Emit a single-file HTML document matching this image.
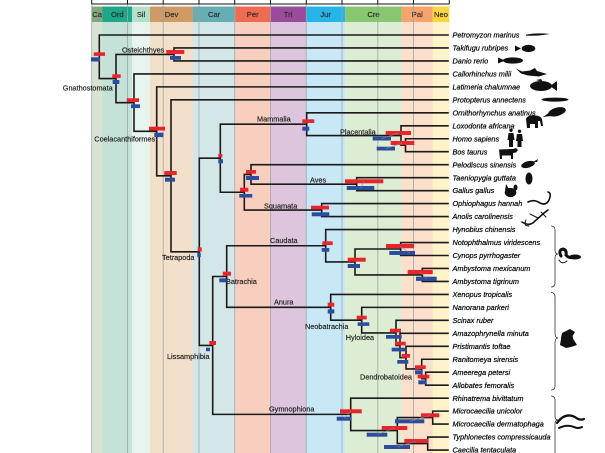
<!DOCTYPE html>
<html><head><meta charset="utf-8"><style>
html,body{margin:0;padding:0;background:#fff;}
svg{display:block;}
.hd{font-family:"Liberation Sans",sans-serif;font-size:7.6px;fill:#2a2a2a;text-anchor:middle;stroke:#2a2a2a;stroke-width:0.15px;}
.cl{font-family:"Liberation Sans",sans-serif;font-size:7.3px;fill:#1a1a1a;stroke:#1a1a1a;stroke-width:0.15px;}
.tx{font-family:"Liberation Sans",sans-serif;font-size:7.3px;font-style:italic;fill:#000;stroke:#000;stroke-width:0.2px;}
</style></head><body>
<svg width="605" height="453" viewBox="0 0 605 453" xmlns="http://www.w3.org/2000/svg">
<rect width="605" height="453" fill="#fff"/>
<g>
<rect x="91.7" y="22" width="10.8" height="431" fill="#d9e3d5"/>
<rect x="102.5" y="22" width="29.7" height="431" fill="#c5e2d9"/>
<rect x="132.2" y="22" width="17.8" height="431" fill="#e8f5ef"/>
<rect x="150" y="22" width="43" height="431" fill="#f2e0ca"/>
<rect x="193" y="22" width="42.3" height="431" fill="#d3e6e8"/>
<rect x="235.3" y="22" width="34.9" height="431" fill="#f8cebf"/>
<rect x="270.2" y="22" width="35.8" height="431" fill="#dec5de"/>
<rect x="306" y="22" width="39.3" height="431" fill="#c9e8f6"/>
<rect x="345.3" y="22" width="56.5" height="431" fill="#ddedd4"/>
<rect x="401.8" y="22" width="31" height="431" fill="#fde0cb"/>
<rect x="432.8" y="22" width="16.5" height="431" fill="#fef3c9"/>
</g>
<g>
<rect x="91.7" y="6.5" width="10.8" height="15.5" fill="#82a77c"/>
<rect x="102.5" y="6.5" width="29.7" height="15.5" fill="#1fa888"/>
<rect x="132.2" y="6.5" width="17.8" height="15.5" fill="#b3e0cb"/>
<rect x="150" y="6.5" width="43" height="15.5" fill="#d09a64"/>
<rect x="193" y="6.5" width="42.3" height="15.5" fill="#66aeb3"/>
<rect x="235.3" y="6.5" width="34.9" height="15.5" fill="#ee6a50"/>
<rect x="270.2" y="6.5" width="35.8" height="15.5" fill="#994c99"/>
<rect x="306" y="6.5" width="39.3" height="15.5" fill="#25b5e8"/>
<rect x="345.3" y="6.5" width="56.5" height="15.5" fill="#88c76f"/>
<rect x="401.8" y="6.5" width="31" height="15.5" fill="#f7a36b"/>
<rect x="432.8" y="6.5" width="16.5" height="15.5" fill="#fbd63e"/>
<text class="hd" x="97.1" y="17">Ca</text>
<text class="hd" x="117.3" y="17">Ord</text>
<text class="hd" x="141.1" y="17">Sil</text>
<text class="hd" x="171.5" y="17">Dev</text>
<text class="hd" x="214.1" y="17">Car</text>
<text class="hd" x="252.7" y="17">Per</text>
<text class="hd" x="288.1" y="17">Tri</text>
<text class="hd" x="325.6" y="17">Jur</text>
<text class="hd" x="373.5" y="17">Cre</text>
<text class="hd" x="417.3" y="17">Pal</text>
<text class="hd" x="441" y="17">Neo</text>
</g>
<g stroke="#9aa4a4" stroke-width="1" opacity="0.75">
<line x1="91.7" y1="4" x2="91.7" y2="453"/>
<line x1="127.5" y1="4" x2="127.5" y2="453"/>
<line x1="163.2" y1="4" x2="163.2" y2="453"/>
<line x1="199" y1="4" x2="199" y2="453"/>
<line x1="234.7" y1="4" x2="234.7" y2="453"/>
<line x1="270.5" y1="4" x2="270.5" y2="453"/>
<line x1="306.3" y1="4" x2="306.3" y2="453"/>
<line x1="342" y1="4" x2="342" y2="453"/>
<line x1="377.8" y1="4" x2="377.8" y2="453"/>
<line x1="413.5" y1="4" x2="413.5" y2="453"/>
</g>
<g stroke="#111" stroke-width="1">
<line x1="91.7" y1="4" x2="449.3" y2="4"/>
<line x1="91.7" y1="0" x2="91.7" y2="4"/>
<line x1="127.5" y1="0" x2="127.5" y2="4"/>
<line x1="163.2" y1="0" x2="163.2" y2="4"/>
<line x1="199" y1="0" x2="199" y2="4"/>
<line x1="234.7" y1="0" x2="234.7" y2="4"/>
<line x1="270.5" y1="0" x2="270.5" y2="4"/>
<line x1="306.3" y1="0" x2="306.3" y2="4"/>
<line x1="342" y1="0" x2="342" y2="4"/>
<line x1="377.8" y1="0" x2="377.8" y2="4"/>
<line x1="413.5" y1="0" x2="413.5" y2="4"/>
<line x1="449.3" y1="0" x2="449.3" y2="4"/>
</g>
<path fill="none" stroke="#1a1a1a" stroke-width="1.6" stroke-linecap="square" d="
M99.3,35 V78.55 M99.3,35 H448 M99.3,78.55 H116
M116,54.46 V102.64 M116,54.46 H174 M116,102.64 H134
M174,47.97 V60.94 M174,47.97 H448 M174,60.94 H448
M134,73.91 V131.36 M134,73.91 H448 M134,131.36 H156.7
M156.7,86.88 V175.84 M156.7,86.88 H448 M156.7,175.84 H171
M171,99.85 V251.83 M171,99.85 H448 M171,251.83 H199.3
M199.3,158.22 V345.44 M199.3,158.22 H220.3 M199.3,345.44 H212.7
M220.3,124.17 V192.26 M220.3,124.17 H306.7 M220.3,192.26 H244.3
M306.7,112.82 V135.52 M306.7,112.82 H448 M306.7,135.52 H401
M401,125.79 V145.25 M401,125.79 H448 M401,145.25 H405.5
M405.5,138.76 V151.73 M405.5,138.76 H448 M405.5,151.73 H448
M244.3,174.43 V210.1 M244.3,174.43 H251 M244.3,210.1 H321.7
M251,164.7 V184.16 M251,164.7 H448 M251,184.16 H356.7
M356.7,177.67 V190.64 M356.7,177.67 H448 M356.7,190.64 H448
M321.7,203.61 V216.58 M321.7,203.61 H448 M321.7,216.58 H448
M212.7,276.5 V414.37 M212.7,276.5 H226.7 M212.7,414.37 H350.7
M226.7,245.76 V307.27 M226.7,245.76 H325.7 M226.7,307.27 H330.7
M325.7,229.55 V261.98 M325.7,229.55 H448 M325.7,261.98 H355
M355,249 V274.95 M355,249 H400.7 M355,274.95 H422.3
M400.7,242.52 V255.49 M400.7,242.52 H448 M400.7,255.49 H448
M422.3,268.46 V281.43 M422.3,268.46 H448 M422.3,281.43 H448
M330.7,294.4 V320.14 M330.7,294.4 H448 M330.7,320.14 H361.7
M361.7,307.37 V332.9 M361.7,307.37 H448 M361.7,332.9 H396
M396,320.34 V345.47 M396,320.34 H448 M396,345.47 H400
M400,333.31 V357.63 M400,333.31 H448 M400,357.63 H406
M406,346.28 V368.98 M406,346.28 H448 M406,368.98 H421.7
M421.7,359.25 V378.7 M421.7,359.25 H448 M421.7,378.7 H425.7
M425.7,372.22 V385.19 M425.7,372.22 H448 M425.7,385.19 H448
M350.7,398.16 V430.58 M350.7,398.16 H448 M350.7,430.58 H397.3
M397.3,417.6 V443.56 M397.3,417.6 H432.7 M397.3,443.56 H427.7
M432.7,411.13 V424.1 M432.7,411.13 H448 M432.7,424.1 H448
M427.7,437.07 V450.04 M427.7,437.07 H448 M427.7,450.04 H448
"/>
<g fill="#e8242c">
<rect x="93.7" y="52.3" width="11.3" height="3.6"/>
<rect x="112.3" y="74.3" width="8.4" height="3.6"/>
<rect x="166.3" y="50" width="18" height="4"/>
<rect x="126.7" y="98.3" width="12.3" height="3.7"/>
<rect x="149" y="126.7" width="16" height="3.8"/>
<rect x="164.3" y="171" width="12.4" height="4"/>
<rect x="218.3" y="154" width="4" height="3.5"/>
<rect x="240" y="187.7" width="8.3" height="4"/>
<rect x="246" y="170" width="10" height="3.7"/>
<rect x="302.3" y="119.3" width="12" height="3.7"/>
<rect x="385.7" y="131" width="25.3" height="4"/>
<rect x="390.7" y="141" width="23.6" height="4"/>
<rect x="345" y="179.3" width="38.3" height="4"/>
<rect x="311" y="205.7" width="18" height="3.8"/>
<rect x="197.7" y="247.3" width="4" height="4.2"/>
<rect x="222.7" y="271.7" width="8.3" height="4"/>
<rect x="322.3" y="241.3" width="10.4" height="3.8"/>
<rect x="347.7" y="257.7" width="18" height="4"/>
<rect x="386" y="244" width="28" height="4.2"/>
<rect x="407.7" y="270" width="25" height="4.2"/>
<rect x="327.7" y="302.7" width="6.6" height="4"/>
<rect x="356.7" y="315.7" width="10" height="3.7"/>
<rect x="390" y="328.7" width="11" height="3.7"/>
<rect x="395" y="341.7" width="10.7" height="3.7"/>
<rect x="401.7" y="354" width="8.3" height="3.7"/>
<rect x="415" y="365.3" width="10.7" height="3.7"/>
<rect x="417.7" y="374.7" width="11.6" height="3.7"/>
<rect x="209.3" y="341" width="6.7" height="4"/>
<rect x="340" y="409.3" width="21.7" height="4"/>
<rect x="381.7" y="426" width="25.6" height="4"/>
<rect x="421" y="413.3" width="18.3" height="4"/>
<rect x="404.3" y="439" width="24" height="4"/>
</g>
<g fill="#2b4c9f">
<rect x="91" y="57.3" width="9" height="4.2"/>
<rect x="112.7" y="80" width="6.6" height="4"/>
<rect x="170" y="56" width="11" height="3.8"/>
<rect x="131" y="104.3" width="9" height="3.8"/>
<rect x="154.3" y="132.7" width="9" height="4.4"/>
<rect x="165" y="177.7" width="10" height="4"/>
<rect x="218.3" y="159.3" width="4.7" height="4"/>
<rect x="239.3" y="194" width="13" height="3.6"/>
<rect x="246" y="176" width="13" height="4"/>
<rect x="302.3" y="126.7" width="7" height="4"/>
<rect x="372.7" y="136.7" width="18.3" height="3.8"/>
<rect x="376.7" y="146.7" width="18.3" height="3.8"/>
<rect x="346.7" y="186" width="27.6" height="4"/>
<rect x="311.7" y="212.3" width="17.6" height="4"/>
<rect x="197.3" y="252.7" width="3.4" height="4.4"/>
<rect x="219.3" y="278.3" width="7.4" height="4"/>
<rect x="321.7" y="248" width="7.6" height="3.8"/>
<rect x="347.7" y="264" width="12.3" height="4"/>
<rect x="389.3" y="251" width="25.7" height="4"/>
<rect x="416" y="276.7" width="20.7" height="4.2"/>
<rect x="327.7" y="309.3" width="6.6" height="4.2"/>
<rect x="357.7" y="322.3" width="11.6" height="3.6"/>
<rect x="386" y="335" width="15.7" height="3.7"/>
<rect x="391.7" y="347.7" width="14" height="3.7"/>
<rect x="397.3" y="360" width="11" height="3.7"/>
<rect x="415" y="370.3" width="7.7" height="4"/>
<rect x="418.3" y="380.3" width="8.4" height="4"/>
<rect x="206" y="347.7" width="4" height="3.5"/>
<rect x="336.7" y="416.7" width="15" height="4"/>
<rect x="366.7" y="432.7" width="20.6" height="4"/>
<rect x="395" y="419.3" width="29.3" height="4"/>
<rect x="384" y="445" width="26" height="4"/>
</g>
<g stroke="#8a8a8a" stroke-width="0.7" opacity="0.8">
<line x1="381.8" y1="138.5" x2="398.3" y2="133"/>
<line x1="385.8" y1="148.5" x2="402.5" y2="143"/>
<line x1="360.5" y1="188" x2="364" y2="181.3"/>
<line x1="409.6" y1="253" x2="400" y2="246"/>
<line x1="426.3" y1="278.7" x2="420.2" y2="272"/>
<line x1="344.2" y1="418.7" x2="350.8" y2="411.3"/>
<line x1="377" y1="434.7" x2="394.5" y2="428"/>
<line x1="409.6" y1="421.3" x2="430.1" y2="415.3"/>
<line x1="397" y1="447" x2="416.3" y2="441"/>
</g>
<g class="cl">
<text x="122" y="52.5">Osteichthyes</text>
<text x="112.7" y="90.5" text-anchor="end">Gnathostomata</text>
<text x="94.3" y="141.5">Coelacanthiformes</text>
<text x="257" y="121.5">Mammalia</text>
<text x="340" y="134.3">Placentalia</text>
<text x="310" y="182.7">Aves</text>
<text x="264" y="208.7">Squamata</text>
<text x="162" y="259.8">Tetrapoda</text>
<text x="270" y="243.2">Caudata</text>
<text x="226" y="284.2">Batrachia</text>
<text x="274" y="304.5">Anura</text>
<text x="305" y="329.2">Neobatrachia</text>
<text x="345.7" y="340.2">Hyloidea</text>
<text x="360" y="379.5">Dendrobatoidea</text>
<text x="269" y="411.5">Gymnophiona</text>
<text x="167" y="359.2">Lissamphibia</text>
</g>
<g class="tx">
<text x="452.5" y="37.6">Petromyzon marinus</text>
<text x="452.5" y="50.6">Takifugu rubripes</text>
<text x="452.5" y="63.5">Danio rerio</text>
<text x="452.5" y="76.5">Callorhinchus milii</text>
<text x="452.5" y="89.5">Latimeria chalumnae</text>
<text x="452.5" y="102.4">Protopterus annectens</text>
<text x="452.5" y="115.4">Ornithorhynchus anatinus</text>
<text x="452.5" y="128.4">Loxodonta africana</text>
<text x="452.5" y="141.4">Homo sapiens</text>
<text x="452.5" y="154.3">Bos taurus</text>
<text x="452.5" y="167.3">Pelodiscus sinensis</text>
<text x="452.5" y="180.3">Taeniopygia guttata</text>
<text x="452.5" y="193.2">Gallus gallus</text>
<text x="452.5" y="206.2">Ophiophagus hannah</text>
<text x="452.5" y="219.2">Anolis carolinensis</text>
<text x="452.5" y="232.2">Hynobius chinensis</text>
<text x="452.5" y="245.1">Notophthalmus viridescens</text>
<text x="452.5" y="258.1">Cynops pyrrhogaster</text>
<text x="452.5" y="271.1">Ambystoma mexicanum</text>
<text x="452.5" y="284">Ambystoma tigrinum</text>
<text x="452.5" y="297">Xenopus tropicalis</text>
<text x="452.5" y="310">Nanorana parkeri</text>
<text x="452.5" y="322.9">Scinax ruber</text>
<text x="452.5" y="335.9">Amazophrynella minuta</text>
<text x="452.5" y="348.9">Pristimantis toftae</text>
<text x="452.5" y="361.9">Ranitomeya sirensis</text>
<text x="452.5" y="374.8">Ameerega petersi</text>
<text x="452.5" y="387.8">Allobates femoralis</text>
<text x="452.5" y="400.8">Rhinatrema bivittatum</text>
<text x="452.5" y="413.7">Microcaecilia unicolor</text>
<text x="452.5" y="426.7">Microcaecilia dermatophaga</text>
<text x="452.5" y="439.7">Typhlonectes compressicauda</text>
<text x="452.5" y="452.6">Caecilia tentaculata</text>
</g>
<g fill="none" stroke="#333" stroke-width="0.8">
<path d="M551,226 Q555,226 555,230 L555,250 Q555,254 558,254 Q555,254 555,258 L555,283 Q555,287 551,287"/>
<path d="M551,292.5 Q555,292.5 555,297 L555,333 Q555,338 558,338 Q555,338 555,343 L555,386 Q555,390 551,390"/>
<path d="M551,396 Q555,396 555,400 L555,416 Q555,420 558,420 Q555,420 555,424 L555,453"/>
</g>
<g fill="#111" stroke="none">
<path d="M526,34.6 Q538,32.6 550,34 Q538,36.2 526,35.6Z"/>
<ellipse cx="528.5" cy="48.5" rx="6.8" ry="3.6"/>
<polygon points="515,45.5 521,48.5 515,51.5"/>
<ellipse cx="513" cy="60.5" rx="10" ry="3.1"/>
<polygon points="498,57.5 505,60.5 498,63.5"/>
<path d="M516,68.5 L522,71.5 L530,70.5 L535,68 L537,71 L547,74 L539,76.5 L528,75.5 L521,73.5 Z"/>
<ellipse cx="541" cy="86" rx="11" ry="5"/>
<polygon points="550,86 557,81 557,91"/>
<polygon points="536,80 541,79 543,82"/>
<ellipse cx="555" cy="99.6" rx="13.5" ry="2"/>
<ellipse cx="557" cy="111.8" rx="9" ry="4.2" transform="rotate(-15 557 111.8)"/>
<polygon points="543,117 550,112 551,116"/>
<path d="M526,119 Q527,115 534,115.5 Q540,115 542,119 L543,126 L541,126 L540,121 L538,121 L538,128 L535,128 L535,124 L530,124 L530,128 L527,128 Z"/>
<circle cx="511" cy="130.3" r="1.7"/>
<path d="M508.5,133 L513.5,133 L514.5,140 L513,140 L513,147 L509,147 L509,140 L507.5,140 Z"/>
<circle cx="519.5" cy="131.3" r="1.7"/>
<path d="M517,134 L522,134 L523,141 L521.5,141 L521.5,147 L517.5,147 L517.5,141 L516,141 Z"/>
<path d="M499,149.5 L513,149 L516,148 L518,150 L516,152.5 L513,153 L513,159 L511,159 L511,155.5 L502,155.5 L502,159 L500,159 Z"/>
<ellipse cx="528" cy="164.5" rx="7" ry="3.2" transform="rotate(-15 528 164.5)"/>
<polygon points="533,162 538,159 537,162"/>
<ellipse cx="529" cy="178.5" rx="3.5" ry="6"/>
<ellipse cx="510.5" cy="192.5" rx="5.8" ry="4.6"/>
<ellipse cx="515.5" cy="187.5" rx="2" ry="3"/>
<polygon points="505,191 506,184 509,189"/>
<ellipse cx="567" cy="339" rx="6" ry="7"/>
<polygon points="562,333 570,329 575,332 572,337 577,345 571,347 566,348 560,345"/>
<ellipse cx="575" cy="257" rx="6" ry="2.5"/>
</g>
<g fill="none" stroke="#111" stroke-linecap="round">
<path d="M528,202 Q534,199 540,203 Q546,206 549,200 Q552,193 548,192" stroke-width="1.6"/>
<path d="M522,222 Q530,227 535,221 L544,213 L548,210" stroke-width="1.6"/>
<path d="M530,214 L538,218 M541,212 L546,217 M526,220 Q523,226 529,226" stroke-width="1"/>
<path d="M561,256 Q558,250 563,249 Q567,250 566,255 Q569,259 576,257" stroke-width="3"/>
<path d="M559,260 Q562,265 567,261" stroke-width="1"/>
<path d="M557,423 Q565,412 575,417 Q580,421 584,419" stroke-width="2.2"/>
<path d="M559,428 Q567,424 574,427 Q578,429 582,427" stroke-width="2"/>
</g>
</svg>
</body></html>
